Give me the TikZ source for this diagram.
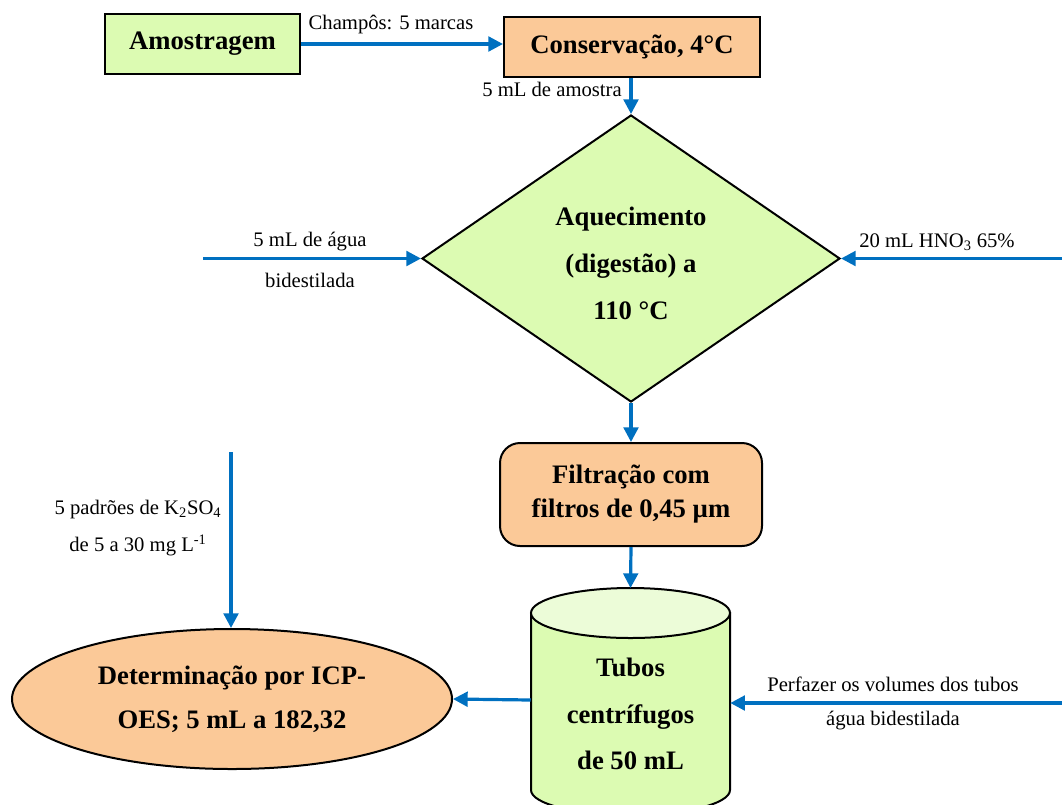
\documentclass[tikz,border=0pt]{standalone}
\usepackage{fontspec}
\setmainfont{Liberation Serif}
\usetikzlibrary{arrows.meta,shapes.geometric}
\definecolor{lgreen}{RGB}{220,251,178}
\definecolor{lgreentop}{RGB}{236,252,216}
\definecolor{peach}{RGB}{251,201,152}
\definecolor{flowblue}{RGB}{0,112,192}
\tikzset{
  lbl/.style={font=\fontsize{15.5}{18}\selectfont, inner sep=0pt},
  bold/.style={font=\fontsize{20}{#1}\selectfont\bfseries, align=center, inner sep=0pt},
  bold/.default=24,
  box/.style={draw=black, line width=1.5pt, inner sep=0pt},
  flow/.style={draw=flowblue, line width=2.4pt, -{Triangle[length=11pt,width=11pt]}},
}
\begin{document}
\begin{tikzpicture}[x=0.75pt,y=-0.75pt]
\useasboundingbox (0,0) rectangle (1062,804);
% nodes
\node[box, fill=lgreen, minimum width=146.25pt, minimum height=45pt] (amos) at (202.5,44) {};
\node[bold] at (amos) {Amostragem};
\node[box, fill=peach, minimum width=192pt, minimum height=45pt] (cons) at (632,47) {};
\node[bold] at (cons) {Conservação, 4°C};
\node[box, diamond, fill=lgreen, minimum width=313.5pt, minimum height=215.25pt] (aq) at (631,258.5) {};
\node[bold=35.25] at (631,263) {Aquecimento\\(digestão) a\\110 °C};
\node[box, rounded corners=15pt, fill=peach, minimum width=196.5pt, minimum height=77.25pt] (filt) at (631,494.5) {};
\node[bold=25.5] at (filt) {Filtração com\\filtros de 0,45 µm};
% cylinder
\node[minimum width=149.25pt, minimum height=60pt, inner sep=0pt] (tubos) at (630.5,700) {};
\draw[line width=1.5pt, fill=lgreen] (531,613) -- (531,790) arc[start angle=180, end angle=0, x radius=99.5, y radius=25] -- (730,613) -- cycle;
\draw[line width=1.5pt, fill=lgreentop] (630.5,613) ellipse[x radius=99.5, y radius=25];
\node[bold=35] at (630.5,714) {Tubos\\centrífugos\\de 50 mL};
\node[box, ellipse, fill=peach, minimum width=330pt, minimum height=105pt] (det) at (232,699) {};
\node[bold=33] at (232,699) {Determinação por ICP-\\OES; 5 mL a 182,32};
% free ends
\coordinate (win) at (203,258.5);
\coordinate (ein) at (1062,258.5);
\coordinate (kin) at (231,452);
\coordinate (pin) at (1062,703);
% connectors
\draw[flow] (amos.east) -- (amos.east -| cons.west);
\draw[flow] (cons.south -| aq.north) -- (aq.north);
\draw[flow] (win) -- (aq.west);
\draw[flow] (ein) -- (aq.east);
\draw[flow] (aq.south) -- (filt.north);
\draw[flow] (filt.south) -- (630.5,588);
\draw[flow] (tubos.west) -- (det.east);
\draw[flow] (kin) -- (kin |- det.north);
\draw[flow] (pin) -- (pin -| tubos.east);
% labels
\node[lbl] (l1) at (391,25) {Champôs: 5 marcas};
\node[lbl, anchor=east] (l2) at (622,89) {5 mL de amostra};
\node[lbl] (l3) at (310,242) {5 mL de água};
\node[lbl] (l4) at (310,280) {bidestilada};
\node[lbl, anchor=west] (l5) at (859,242) {20 mL HNO\textsubscript{3} 65\%};
\node[lbl, align=center, font=\fontsize{15.5}{27.75}\selectfont] (l6) at (138,528) {5 padrões de K\textsubscript{2}SO\textsubscript{4}\\de 5 a 30 mg L\textsuperscript{-1}};
\node[lbl] (l7) at (893,684) {Perfazer os volumes dos tubos};
\node[lbl] (l8) at (893,721) {água bidestilada};
\end{tikzpicture}
\end{document}
